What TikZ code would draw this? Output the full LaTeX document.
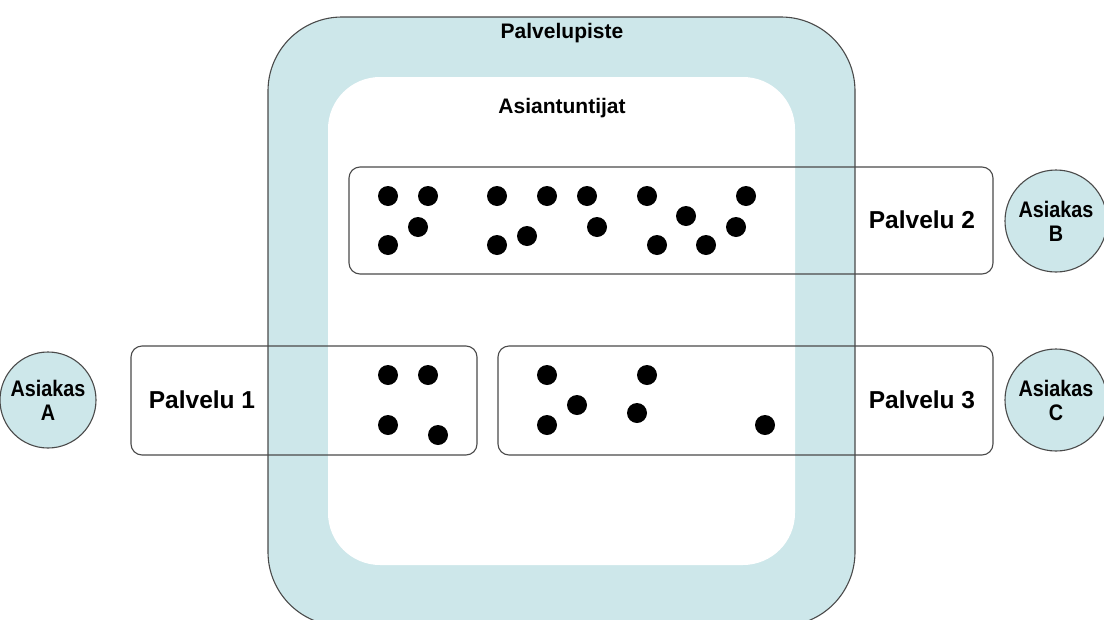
\documentclass[tikz,border=0pt]{standalone}
\usepackage{fontspec}
\setmainfont{Liberation Sans}
\newfontfamily\narrowsans[FakeStretch=0.88]{Liberation Sans}
\definecolor{band}{HTML}{CDE7EA}
\definecolor{edge}{HTML}{4A4A4A}
\begin{document}
\begin{tikzpicture}[x=1pt,y=-1pt,
  outline/.style={draw=edge,line width=1.1pt},
  svcbox/.style={outline,rounded corners=11pt,inner sep=0pt},
  dot/.style={circle,fill=black,minimum size=20pt,inner sep=0pt},
  client/.style={circle,outline,fill=band,minimum size=102pt,inner sep=0pt,align=center,
    font=\narrowsans\bfseries\fontsize{22.5}{24}\selectfont},
  svclabel/.style={font=\bfseries\fontsize{24.5}{26}\selectfont},
  title/.style={font=\bfseries\fontsize{21}{23}\selectfont}]
\useasboundingbox (0,0) rectangle (1104,619);
\clip (0,0) rectangle (1104,619);

% service point frame and the experts area inside it
\path[fill=band,draw=edge,line width=1.1pt,rounded corners=74pt] (268,17) rectangle (855,626);
\path[fill=white,rounded corners=52pt] (328,77) rectangle (795,565);
\node[title] (point) at (562,33) {Palvelupiste};
\node[title] (experts) at (562,108) {Asiantuntijat};

% services
\node[svcbox,minimum width=644pt,minimum height=107pt] (s2) at (671,220.5) {};
\node[svcbox,minimum width=346pt,minimum height=109pt] (s1) at (304,400.5) {};
\node[svcbox,minimum width=495pt,minimum height=109pt] (s3) at (745.5,400.5) {};
\node[svclabel] (l2) at (922,220) {Palvelu 2};
\node[svclabel] (l1) at (202,400) {Palvelu 1};
\node[svclabel] (l3) at (922,400) {Palvelu 3};

% experts
\foreach \x/\y [count=\i] in {388/196,428/196,418/227,388/245,497/196,547/196,587/196,647/196,
  746/196,527/236,497/245,597/227,686/216,736/227,657/245,706/245}
  \node[dot] (e2-\i) at (\x,\y) {};
\foreach \x/\y [count=\i] in {388/375,428/375,388/425,438/435}
  \node[dot] (e1-\i) at (\x,\y) {};
\foreach \x/\y [count=\i] in {547/375,647/375,577/405,637/413,547/425,765/425}
  \node[dot] (e3-\i) at (\x,\y) {};

% clients
\node[client,minimum size=96pt] (ca) at (48,400) {Asiakas\\A};
\node[client] (cb) at (1056,221) {Asiakas\\B};
\node[client] (cc) at (1056,400) {Asiakas\\C};
\end{tikzpicture}
\end{document}
